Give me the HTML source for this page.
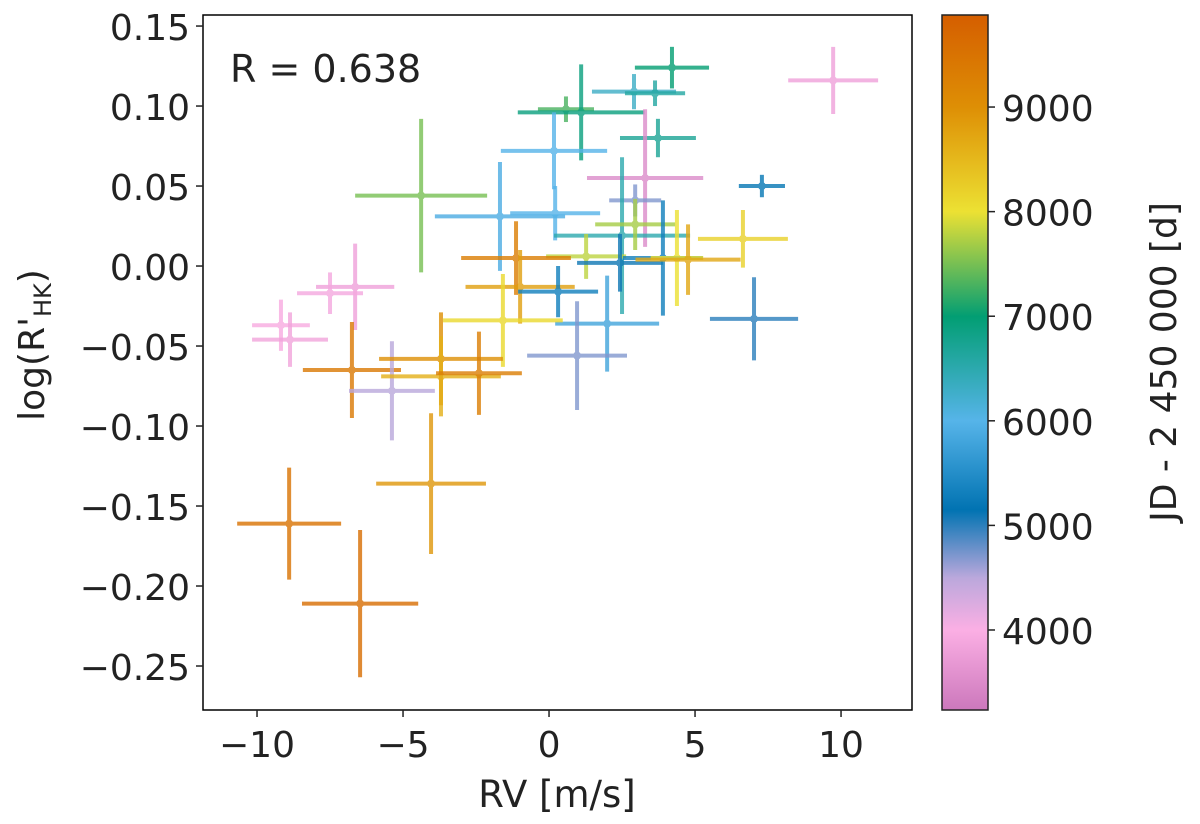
<!DOCTYPE html>
<html><head><meta charset="utf-8"><style>
html,body{margin:0;padding:0;background:#fff;}
svg{display:block;font-family:"DejaVu Sans","Liberation Sans",sans-serif;}
</style></head><body>
<svg id="chart" width="1200" height="824" viewBox="0 0 1200 824" xmlns="http://www.w3.org/2000/svg">
<defs>
<linearGradient id="cmap" x1="0" y1="1" x2="0" y2="0">
<stop offset="0" stop-color="#cc78bc"/>
<stop offset="0.115" stop-color="#fbafe4"/>
<stop offset="0.19" stop-color="#bba8dc"/>
<stop offset="0.288" stop-color="#0173b2"/>
<stop offset="0.416" stop-color="#56b4e9"/>
<stop offset="0.566" stop-color="#029e73"/>
<stop offset="0.717" stop-color="#ece133"/>
<stop offset="0.867" stop-color="#de8f05"/>
<stop offset="1" stop-color="#d55e00"/>
</linearGradient>
</defs>
<rect x="0" y="0" width="1200" height="824" fill="#fff"/>
<g id="marks"></g>
<rect x="203" y="15" width="709" height="695" fill="none" stroke="#000" stroke-width="1.5"/>
<g id="xticks"></g>
<g id="yticks"></g>
<text x="230" y="82" font-size="38" fill="#222">R = 0.638</text>
<text x="557" y="807" font-size="37" fill="#222" text-anchor="middle">RV [m/s]</text>
<text transform="translate(44,345) rotate(-90)" font-size="36" fill="#222" text-anchor="middle">log(R'<tspan font-size="24" dy="7">HK</tspan><tspan dy="-7">)</tspan></text>
<rect x="942" y="15" width="46" height="695" fill="url(#cmap)" stroke="#222" stroke-width="1.5"/>
<g id="cticks"></g>
<text transform="translate(1176,362) rotate(-90)" font-size="36" fill="#222" text-anchor="middle">JD - 2 450 000 [d]</text>
</svg>
<script>
const rv     = [9.73,4.21,2.91,3.63,0.58,1.10,0.17,3.73,3.29,7.29,2.95,-4.38,-1.68,0.21,2.5,2.95,1.27,6.64,7.02,2.43,3.9,-1.13,-0.99,0.31,1.99,-1.58,0.96,-6.64,-7.5,-9.18,-8.87,-6.75,-5.38,-3.70,-3.70,-2.4,-4.04,-8.9,-6.47,4.38,4.76];
const rhk    = [0.116,0.124,0.109,0.108,0.098,0.096,0.072,0.080,0.055,0.050,0.041,0.044,0.031,0.033,0.019,0.026,0.006,0.017,-0.033,0.002,0.005,0.005,-0.013,-0.016,-0.036,-0.034,-0.056,-0.013,-0.017,-0.037,-0.046,-0.065,-0.078,-0.058,-0.069,-0.067,-0.136,-0.161,-0.211,0.005,0.004];
const rvErr  = [1.54,1.27,1.44,1.03,0.96,2.17,1.82,1.30,1.99,0.79,0.89,2.26,2.23,1.54,2.33,1.37,1.37,1.54,1.51,1.47,1.37,1.88,1.87,1.37,1.78,2.05,1.71,1.34,1.13,0.99,1.30,1.68,1.47,2.12,2.05,1.47,1.88,1.78,1.99,0.9,1.8];
const rhkErr = [0.021,0.013,0.011,0.008,0.008,0.030,0.024,0.012,0.043,0.007,0.010,0.048,0.034,0.017,0.049,0.016,0.014,0.018,0.026,0.018,0.036,0.023,0.023,0.016,0.030,0.029,0.034,0.027,0.013,0.016,0.017,0.030,0.031,0.029,0.025,0.026,0.044,0.035,0.046,0.030,0.022];
const jd     = [3800,7000,6300,6600,7300,6900,6000,6700,3500,5200,4700,7500,5900,6000,6500,7700,7800,8200,5000,5100,5300,9300,8800,5300,5800,8100,4700,3800,3900,3950,3850,9400,4500,9000,8600,9300,8900,9500,9600,8000,8700];
const xTicks = [-10,-5,0,5,10];
const yTicks = [0.15,0.10,0.05,0.00,-0.05,-0.10,-0.15,-0.20,-0.25];
const yTickLabels = ["0.15","0.10","0.05","0.00","\u22120.05","\u22120.10","\u22120.15","\u22120.20","\u22120.25"];
const cTicks = [4000,5000,6000,7000,8000,9000];

const NS="http://www.w3.org/2000/svg";
const X0=203,X1=912,Y0=15,Y1=710;
const xMin=-11.85,xMax=12.43,yMin=-0.2775,yMax=0.1569,cMin=3235,cMax=9880;
const sx=v=>X0+(v-xMin)/(xMax-xMin)*(X1-X0);
const sy=v=>Y1-(v-yMin)/(yMax-yMin)*(Y1-Y0);
const sc=v=>Y1-(v-cMin)/(cMax-cMin)*(Y1-Y0);
const stops=[[0,[204,120,188]],[0.115,[251,175,228]],[0.19,[187,168,220]],[0.288,[1,115,178]],[0.416,[86,180,233]],[0.566,[2,158,115]],[0.717,[236,225,51]],[0.867,[222,143,5]],[1,[213,94,0]]];
function cmap(t){
  let f=(t-cMin)/(cMax-cMin);f=Math.max(0,Math.min(1,f));
  for(let i=1;i<stops.length;i++){if(f<=stops[i][0]){const a=stops[i-1],b=stops[i];const u=(f-a[0])/(b[0]-a[0]);
    const c=a[1].map((v,k)=>Math.round(v+(b[1][k]-v)*u));return `rgb(${c[0]},${c[1]},${c[2]})`;}}
  return "rgb(213,94,0)";
}
function mk(tag,attrs,parent){const e=document.createElementNS(NS,tag);for(const k in attrs)e.setAttribute(k,attrs[k]);parent.appendChild(e);return e;}
const marks=document.getElementById('marks');
for(let i=0;i<rv.length;i++){
  const col=cmap(jd[i]);
  const g=mk('g',{opacity:0.8},marks);
  
  
  const h=mk('line',{x1:sx(rv[i]-rvErr[i]),x2:sx(rv[i]+rvErr[i]),y1:sy(rhk[i]),y2:sy(rhk[i]),stroke:col,'stroke-width':4},g);
  
  
  const v=mk('line',{x1:sx(rv[i]),x2:sx(rv[i]),y1:sy(rhk[i]-rhkErr[i]),y2:sy(rhk[i]+rhkErr[i]),stroke:col,'stroke-width':4},g);
  
  
  const c=mk('circle',{cx:sx(rv[i]),cy:sy(rhk[i]),r:4,fill:col},g);
  
  
}
const xt=document.getElementById('xticks');
xTicks.forEach(v=>{
  const l=mk('line',{x1:sx(v),x2:sx(v),y1:Y1,y2:Y1+7,stroke:'#222','stroke-width':1.5},xt);
  
  
  const t=mk('text',{x:sx(v),y:Y1+47,'font-size':36,fill:'#222','text-anchor':'middle'},xt);
  t.textContent=v<0?'\u2212'+Math.abs(v):String(v);
  
  
});
const yt=document.getElementById('yticks');
yTicks.forEach((v,i)=>{
  const l=mk('line',{x1:X0-7,x2:X0,y1:sy(v),y2:sy(v),stroke:'#222','stroke-width':1.5},yt);
  
  
  const t=mk('text',{x:X0-13,y:sy(v)+14,'font-size':36,fill:'#222','text-anchor':'end'},yt);
  t.textContent=yTickLabels[i];
  
  
});
const ct=document.getElementById('cticks');
cTicks.forEach(v=>{
  const l=mk('line',{x1:988,x2:995,y1:sc(v),y2:sc(v),stroke:'#222','stroke-width':1.5},ct);
  
  
  const t=mk('text',{x:1002,y:sc(v)+14,'font-size':36,fill:'#222'},ct);
  t.textContent=String(v);
  
  
});
</script>
</body></html>
